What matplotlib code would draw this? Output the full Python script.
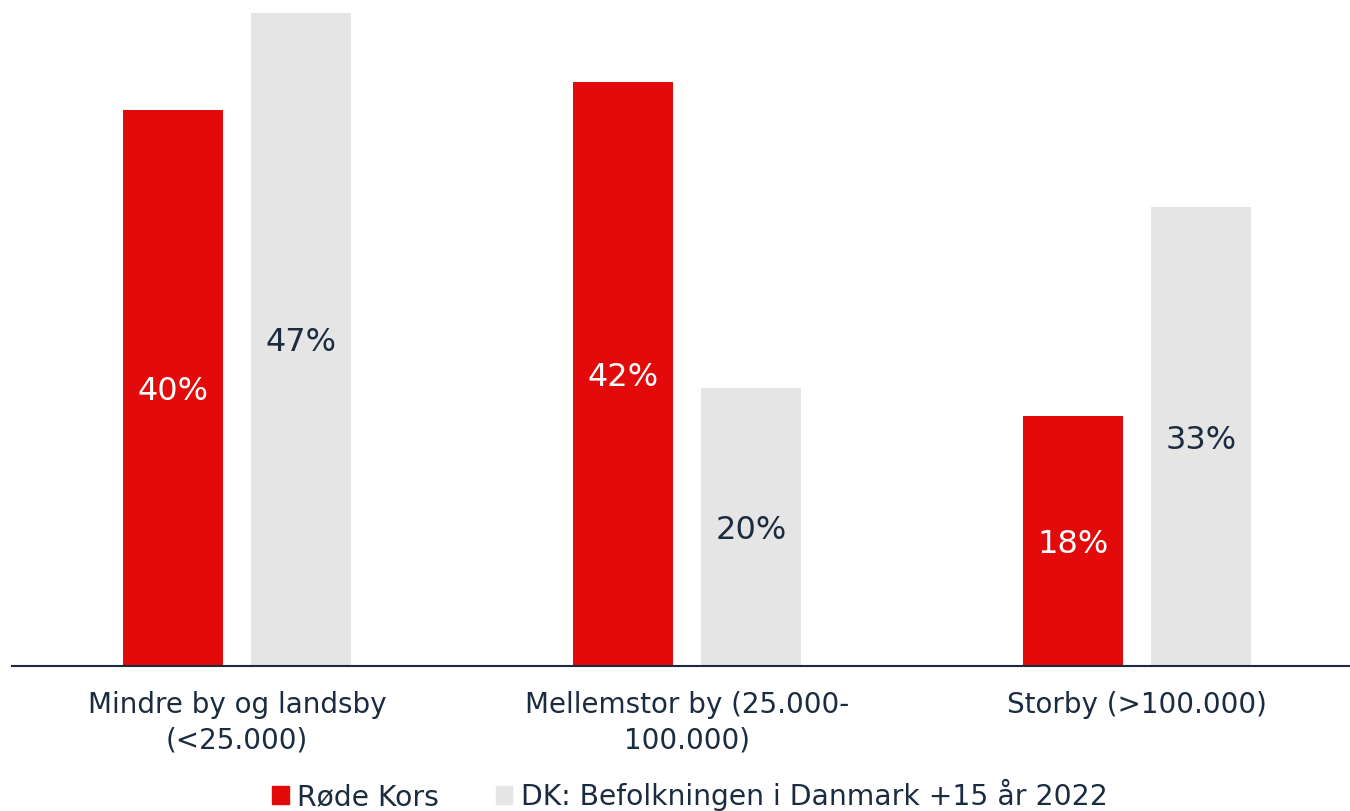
import matplotlib.pyplot as plt
import numpy as np
from matplotlib.patches import Patch

categories = ["Mindre by og landsby\n(<25.000)", "Mellemstor by (25.000-\n100.000)", "Storby (>100.000)"]
roede_kors = [40, 42, 18]
befolkning = [47, 20, 33]
series_names = ["Røde Kors", "DK: Befolkningen i Danmark +15 år 2022"]

red = "#e20a0a"
grey = "#e5e5e5"
navy = "#1b2b40"

fig = plt.figure(figsize=(13.5, 8.11), dpi=100)
ax = fig.add_axes([12 / 1350, 1 - 666 / 811, 1350 / 1350, 666 / 811])

x = np.arange(len(categories))
w = 100 / 450
off = 64 / 450
b1 = ax.bar(x - off, roede_kors, w, color=red)
b2 = ax.bar(x + off, befolkning, w, color=grey)

for rect, v in zip(b1, roede_kors):
    ax.text(rect.get_x() + rect.get_width() / 2, v / 2, f"{v}%", ha="center", va="center_baseline",
            color="white", fontsize=23)
for rect, v in zip(b2, befolkning):
    ax.text(rect.get_x() + rect.get_width() / 2, v / 2, f"{v}%", ha="center", va="center_baseline",
            color=navy, fontsize=23)

ax.set_xlim(-0.5, 2.5)
ax.set_ylim(0, 666 / 13.9)
ax.set_xticks(x)
ax.set_xticklabels(categories, fontsize=20, color=navy, linespacing=1.35)
ax.tick_params(axis="x", length=0, pad=18)
ax.set_yticks([])
for s in ["top", "right", "left"]:
    ax.spines[s].set_visible(False)
ax.spines["bottom"].set_color(navy)
ax.spines["bottom"].set_linewidth(1.5)

handles = [Patch(color=red), Patch(color=grey)]
fig.legend(handles, series_names, loc="center", bbox_to_anchor=(0.511, 0.02), ncol=2,
           frameon=False, fontsize=20.3, labelcolor=navy, handlelength=0.6, handleheight=0.6,
           handletextpad=0.3, columnspacing=2.0)

fig.savefig("out.png", dpi=100)
